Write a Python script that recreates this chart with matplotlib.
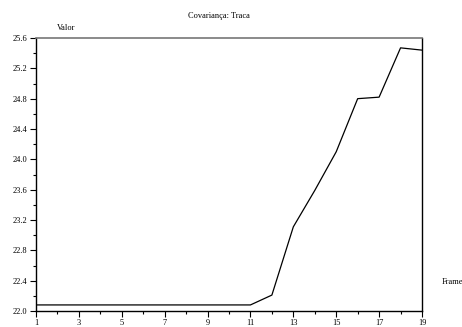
import matplotlib
matplotlib.use("Agg")
import matplotlib.pyplot as plt
from matplotlib.ticker import MultipleLocator, FixedLocator

frames = [1, 2, 3, 4, 5, 6, 7, 8, 9, 10, 11, 12, 13, 14, 15, 16, 17, 18, 19]
valor = [22.08, 22.08, 22.08, 22.08, 22.08, 22.08, 22.08, 22.08, 22.08, 22.08,
         22.08, 22.21, 23.11, 23.59, 24.10, 24.80, 24.82, 25.47, 25.44]
xticks = [1, 3, 5, 7, 9, 11, 13, 15, 17, 19]

plt.rcParams['font.family'] = ['Liberation Serif', 'DejaVu Serif']

fig = plt.figure(figsize=(4.62, 3.27), dpi=100)
ax = fig.add_axes([36 / 462, 1 - 311 / 327, 386 / 462, 273 / 327])

ax.plot(frames, valor, color='black', lw=0.9)

ax.set_xlim(1, 19)
ax.set_ylim(22.0, 25.6)
ax.xaxis.set_major_locator(FixedLocator(xticks))
ax.xaxis.set_minor_locator(FixedLocator(frames))
ax.yaxis.set_major_locator(MultipleLocator(0.4))
ax.yaxis.set_minor_locator(MultipleLocator(0.2))
ax.yaxis.set_major_formatter(matplotlib.ticker.FormatStrFormatter('%.1f'))

ax.tick_params(which='major', length=4, width=0.8, labelsize=6, pad=2)
ax.tick_params(which='minor', length=2, width=0.8)
ax.tick_params(axis='x', pad=2)

ax.spines['top'].set_color('#777777')
ax.spines['top'].set_linewidth(1.2)
for s in ['left', 'right', 'bottom']:
    ax.spines[s].set_color('black')
    ax.spines[s].set_linewidth(1.0)

fig.text(219 / 462, 1 - 16 / 327, 'Covariança: Traca', ha='center', va='center', fontsize=6)
fig.text(57 / 462, 1 - 28 / 327, 'Valor', ha='left', va='center', fontsize=6)
fig.text(442 / 462, 1 - 282 / 327, 'Frame', ha='left', va='center', fontsize=6)

fig.savefig('out.png', dpi=100)
